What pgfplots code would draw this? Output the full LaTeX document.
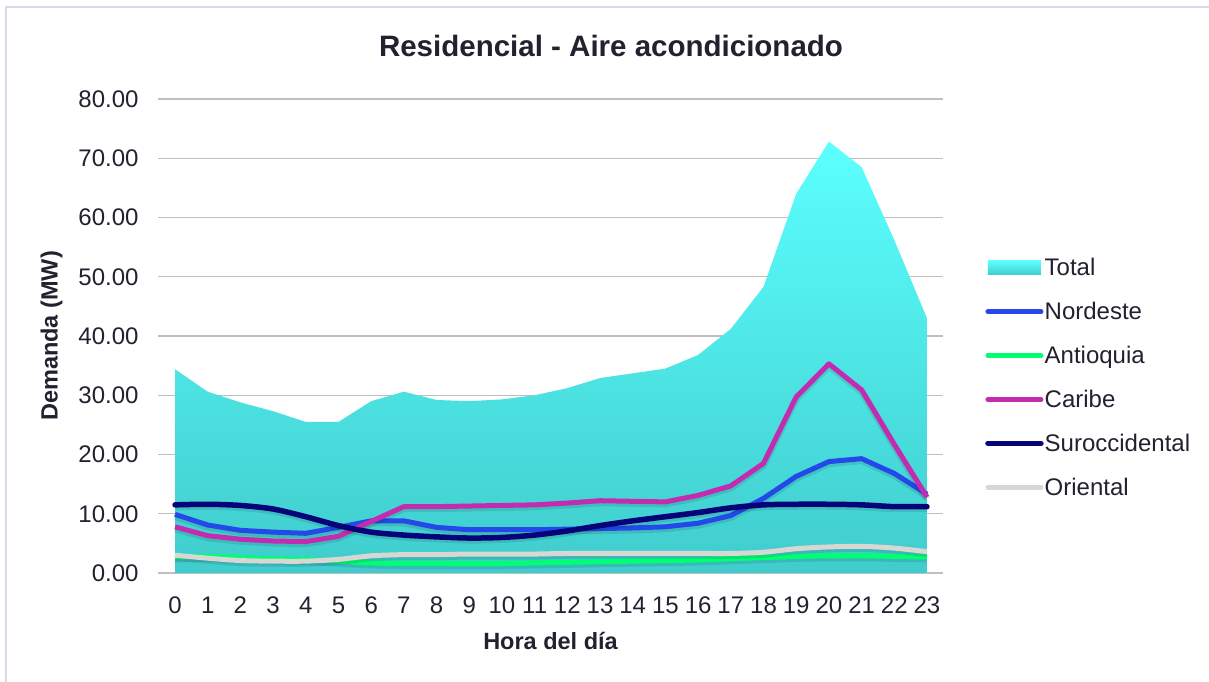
\documentclass[border=0pt]{standalone}
\usepackage{pgfplots}
\pgfplotsset{compat=1.18}
\usepackage{pgfplotstable}
\usepackage{fontspec}
\setmainfont{Liberation Sans}
\definecolor{txt}{HTML}{23202F}
\definecolor{grid}{HTML}{DAD7E8}
\definecolor{nor}{HTML}{2549E8}
\definecolor{ant}{HTML}{00FF73}
\definecolor{car}{HTML}{C42BB0}
\definecolor{sur}{HTML}{070378}
\definecolor{ori}{HTML}{D7D7D4}
\definecolor{totT}{HTML}{5CFFFF}
\definecolor{totB}{HTML}{40CCCC}
\pgfplotstableread{
h Total Nor Ant Car Sur Ori
0 34.4 9.9 2.7 7.8 11.5 3.0
1 30.6 8.1 2.8 6.3 11.6 2.5
2 28.8 7.2 2.6 5.7 11.4 2.1
3 27.3 6.9 2.4 5.4 10.8 2.0
4 25.5 6.7 2.3 5.3 9.5 2.0
5 25.5 7.7 2.0 6.2 8.0 2.3
6 29.0 8.8 1.7 8.7 6.9 2.9
7 30.6 8.8 1.6 11.2 6.4 3.1
8 29.2 7.7 1.6 11.2 6.1 3.1
9 29.0 7.3 1.6 11.3 5.9 3.2
10 29.3 7.3 1.6 11.4 6.0 3.2
11 30.0 7.3 1.7 11.5 6.4 3.2
12 31.2 7.4 1.8 11.8 7.1 3.3
13 32.9 7.5 1.9 12.2 8.0 3.3
14 33.7 7.6 2.0 12.1 8.8 3.3
15 34.5 7.8 2.1 12.0 9.5 3.3
16 36.8 8.4 2.2 13.1 10.2 3.3
17 41.2 9.7 2.4 14.7 11.0 3.3
18 48.3 12.6 2.6 18.5 11.5 3.5
19 64.0 16.3 2.8 29.7 11.6 4.1
20 72.8 18.8 2.9 35.3 11.6 4.4
21 68.5 19.3 2.9 30.9 11.5 4.5
22 56.2 16.8 2.8 21.7 11.2 4.2
23 43.0 13.3 2.7 12.8 11.2 3.6
}\datatable
\begin{document}
\begin{tikzpicture}
\path[use as bounding box] (0pt,0pt) rectangle (1209pt,682pt);
\draw[grid, line width=1.2pt] (6pt,0pt) -- (6pt,675pt) -- (1209pt,675pt);
\node[txt, font=\bfseries\fontsize{29.5}{34}\selectfont] at (611pt,636pt) {Residencial - Aire acondicionado};
\begin{axis}[
  at={(158pt,109pt)}, anchor=south west,
  scale only axis, width=785pt, height=474pt,
  xmin=-0.52, xmax=23.49, ymin=0, ymax=80,
  axis line style={draw=none},
  xmajorgrids=false, ymajorgrids=true,
  major tick length=0pt, minor tick length=0pt,
  xtick style={draw=none}, ytick style={draw=none},
  major grid style={grid, line width=1.2pt},
  ytick={0,10,...,80},
  xtick={0,...,23},
  /pgf/number format/assume math mode=true,
  /pgf/number format/fixed,
  /pgf/number format/fixed zerofill,
  /pgf/number format/precision=2,
  xticklabel={\pgfmathprintnumber[precision=0,fixed zerofill=false]{\tick}},
  ticklabel style={font=\fontsize{24}{28}\selectfont, text=txt},
  yticklabel style={xshift=-16pt},
  xticklabel style={yshift=-20pt},
  xlabel={Hora del día}, ylabel={Demanda (MW)},
  label style={font=\bfseries\fontsize{23.5}{27}\selectfont, text=txt},
  xlabel style={yshift=-12pt},
  ylabel style={yshift=9pt},
  legend style={at={(1.0535,0.4124)}, anchor=west, draw=none, fill=none,
    inner sep=0pt, row sep=23pt, font=\fontsize{24}{28}\selectfont, text=txt,
    nodes={inner sep=1pt, anchor=west}},
  legend cell align=left,
  legend image code/.code={\draw[#1, line cap=round] (0pt,0pt) -- (53pt,0pt);},
  shad/.style={black, draw opacity=0.10, line width=7pt, forget plot, transform canvas={yshift=-2pt}},
]
\addplot[draw=none, top color=totT, bottom color=totB,
  legend image code/.code={\fill[top color=totT, bottom color=totB] (0pt,-7pt) rectangle (53pt,7pt);}]
  table[x=h, y=Total] {\datatable} \closedcycle;
\addlegendentry{Total}
\addplot[shad, line join=round] table[x=h, y=Nor] {\datatable};
\addplot[nor, line width=5pt, line join=round] table[x=h, y=Nor] {\datatable};
\addlegendentry{Nordeste}
\addplot[shad, smooth] table[x=h, y=Ant] {\datatable};
\addplot[ant, line width=5pt, smooth] table[x=h, y=Ant] {\datatable};
\addlegendentry{Antioquia}
\addplot[shad, line join=round] table[x=h, y=Car] {\datatable};
\addplot[car, line width=5pt, line join=round] table[x=h, y=Car] {\datatable};
\addlegendentry{Caribe}
\addplot[shad, smooth] table[x=h, y=Sur] {\datatable};
\addplot[sur, line width=5.5pt, smooth, line cap=round] table[x=h, y=Sur] {\datatable};
\addlegendentry{Suroccidental}
\addplot[shad, smooth] table[x=h, y=Ori] {\datatable};
\addplot[ori, line width=5pt, smooth] table[x=h, y=Ori] {\datatable};
\addlegendentry{Oriental}
\end{axis}
\end{tikzpicture}
\end{document}
